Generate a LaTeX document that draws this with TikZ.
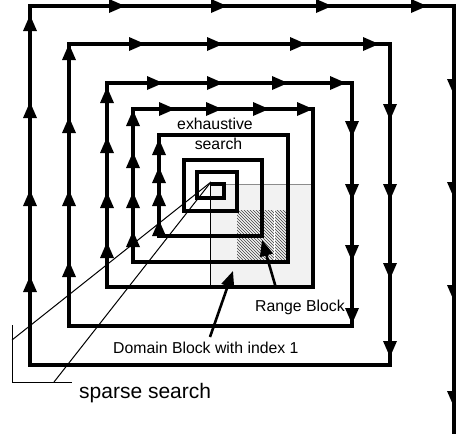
\documentclass[tikz,border=0pt]{standalone}
\usepackage{fontspec}
\setmainfont{Liberation Sans}
\usetikzlibrary{arrows.meta,patterns}
\begin{document}
\begin{tikzpicture}[x=1pt,y=-1pt,
  spiral/.style={line width=3.2pt, line join=miter, line cap=butt},
  hair/.style={line width=1pt},
  ah/.pic={\fill (0,0) -- (-16,7) -- (-16,-7) -- cycle;},
  ptr/.style={line width=2.6pt, -{Triangle[length=16pt,width=13pt]}},
  lbl/.style={inner sep=0pt, font=\fontsize{15.8}{19}\selectfont},
  big/.style={inner sep=0pt, font=\fontsize{21}{25}\selectfont}
]
\useasboundingbox (0,0) rectangle (456,434);
\clip (0,0) rectangle (456,434);

% domain block area (light grey) and its grid lines
\fill[black!5] (210,184) rectangle (313,287);
\draw[black!45, line width=0.8pt] (210,184) -- (313,184);
\draw[hair] (210,184) -- (210,287);

% range block (hatched)
\fill[pattern=north west lines, pattern color=black!75] (237,210) rectangle (288,262);
\draw[white, line width=0.8pt] (274,210) -- (274,262);

% search spiral, from the centre outwards
\draw[spiral] (210,184) -- (224,184) -- (224,198) -- (197,198) -- (197,172)
  -- (237,172) -- (237,211) -- (184,211) -- (184,160) -- (262,160)
  -- (262,236) -- (159,236) -- (159,135) -- (288,135) -- (288,262)
  -- (133,262) -- (133,109) -- (313,109) -- (313,287) -- (107,287)
  -- (107,83) -- (352,83) -- (352,326) -- (69,326) -- (69,44)
  -- (390,44) -- (390,365) -- (30,365) -- (30,6) -- (454,6) -- (454,440);

% direction marks on the spiral
\foreach \t in {15,102,190,276} \pic[rotate=90] at (30,\t) {ah};
\foreach \t in {125,227,332,427} \pic at (\t,6) {ah};
\foreach \t in {95,198,301,407} \pic[rotate=-90] at (454,\t) {ah};
\foreach \t in {44,117,190,261} \pic[rotate=90] at (69,\t) {ah};
\foreach \t in {145,223,306,379} \pic at (\t,44) {ah};
\foreach \t in {120,200,279,357} \pic[rotate=-90] at (390,\t) {ah};
\foreach \t in {87,137,192,242} \pic[rotate=90] at (107,\t) {ah};
\foreach \t in {163,223,288,346} \pic at (\t,83) {ah};
\foreach \t in {137,200,261,324} \pic[rotate=-90] at (352,\t) {ah};
\foreach \t in {110,152,192,231} \pic[rotate=90] at (133,\t) {ah};
\foreach \t in {175,222,269,313} \pic at (\t,109) {ah};
\foreach \t in {139,167,190,220} \pic[rotate=90] at (159,\t) {ah};

% sparse search indicator lines and bracket
\coordinate (ctr) at (211,182);
\coordinate (sA) at (12,340);
\coordinate (sB) at (54,382);
\coordinate (brTop) at (12,325);
\coordinate (brCorner) at (12,382);
\coordinate (brEnd) at (72,382);
\draw[hair] (ctr) -- (sA);
\draw[hair] (ctr) -- (sB);
\draw[hair] (brTop) -- (brCorner) -- (brEnd);

% labels
\node[lbl, anchor=base] (exh) at (215,129) {exhaustive};
\node[lbl, anchor=base] (srch) at (218.5,149) {search};
\node[lbl, anchor=base west] (rng) at (255,311) {Range Block};
\node[lbl, anchor=base west] (dom) at (113,353) {Domain Block with index 1};
\node[big, anchor=base west] (sps) at (79,398.5) {sparse search};

% pointers to the blocks
\coordinate (rbTail) at (276,288);
\coordinate (rbTip) at (262,240);
\coordinate (dbTail) at (210,337);
\coordinate (dbTip) at (233,271);
\draw[ptr] (rbTail) -- (rbTip);
\draw[ptr] (dbTail) -- (dbTip);
\end{tikzpicture}
\end{document}
